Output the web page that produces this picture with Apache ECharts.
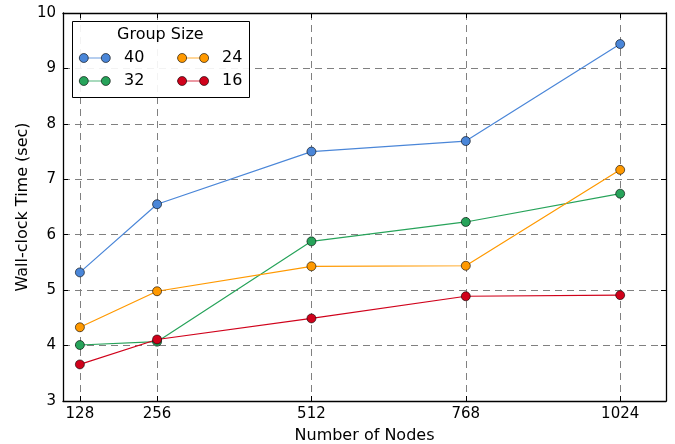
<!DOCTYPE html>
<html>
<head>
<meta charset="utf-8">
<script src="https://cdn.jsdelivr.net/npm/echarts@6/dist/echarts.min.js"></script>
<style>html,body{margin:0;padding:0;background:#fff}#c{width:675px;height:444px}</style>
</head>
<body>
<div id="c"></div>
<script>
const nodes = [128, 256, 512, 768, 1024];
const xTicks = [128, 256, 512, 768, 1024];
const yTicks = [3, 4, 5, 6, 7, 8, 9, 10];
const groupNames = ['40', '32', '24', '16'];
const g40 = [5.32, 6.55, 7.50, 7.69, 9.44];
const g32 = [4.01, 4.07, 5.88, 6.23, 6.74];
const g24 = [4.33, 4.98, 5.43, 5.44, 7.17];
const g16 = [3.66, 4.11, 4.49, 4.89, 4.91];
const colors = ['#4a86d8', '#27a35a', '#ff9900', '#d0021b'];

const values = [g40, g32, g24, g16];
const font = 'DejaVu Sans';
const chart = echarts.init(document.getElementById('c'));

const dash = { color: '#808080', width: 1, type: [7, 5] };
function xa(pos, main) {
  return {
    type: 'value', min: 100, max: 1100, position: pos,
    axisLine: { show: true, onZero: false, lineStyle: { color: '#000', width: 1.3 } },
    axisTick: { show: true, inside: true, length: 5, customValues: xTicks, lineStyle: { color: '#000' } },
    axisLabel: { show: main, customValues: xTicks, formatter: v => String(v), color: '#000', fontFamily: font, fontSize: 15, margin: 6 },
    splitLine: { show: main, lineStyle: dash },
    name: main ? 'Number of Nodes' : '', nameLocation: 'middle', nameGap: 27, nameMoveOverlap: false,
    nameTextStyle: { color: '#000', fontFamily: font, fontSize: 16 }
  };
}
function ya(pos, main) {
  return {
    type: 'value', min: 3, max: 10, interval: 1, position: pos,
    axisLine: { show: true, onZero: false, lineStyle: { color: '#000', width: 1.3 } },
    axisTick: { show: true, inside: true, length: 5, lineStyle: { color: '#000' } },
    axisLabel: { show: main, color: '#000', fontFamily: font, fontSize: 15, margin: 7 },
    splitLine: { show: main, lineStyle: dash },
    name: main ? 'Wall-clock Time (sec)' : '', nameLocation: 'middle', nameGap: 32, nameRotate: 90, nameMoveOverlap: false,
    nameTextStyle: { color: '#000', fontFamily: font, fontSize: 16 }
  };
}

const lineIcon = 'path://M0,4.1 H31 V4.9 H0 Z';
const dotIcon = 'path://M0,4.5a4.5,4.5 0 1,0 9,0a4.5,4.5 0 1,0 -9,0 M22,4.5a4.5,4.5 0 1,0 9,0a4.5,4.5 0 1,0 -9,0';
const legendBase = {
  data: ['40', '24', '32', '16'],
  orient: 'horizontal', left: 79, top: 49, width: 195, padding: 0,
  itemGap: 5, itemWidth: 31, itemHeight: 9,
  textStyle: { color: '#000', fontFamily: font, fontSize: 16, width: 48, lineHeight: 18, padding: [0, 0, 0, 9] }
};

chart.setOption({
  animation: false,
  grid: { left: 63, right: 9, top: 13, bottom: 43, containLabel: false, outerBoundsMode: 'none' },
  xAxis: [xa('bottom', true), xa('top', false)],
  yAxis: [ya('left', true), ya('right', false)],
  legend: [
    Object.assign({}, legendBase, { icon: lineIcon, itemStyle: { borderWidth: 0 }, z: 4 }),
    Object.assign({}, legendBase, { icon: dotIcon, itemStyle: { borderColor: '#000', borderWidth: 0.6 }, formatter: () => ' ', z: 5 })
  ],
  graphic: [
    { type: 'rect', left: 72, top: 21, shape: { width: 177, height: 76 }, style: { fill: 'rgba(255,255,255,0.9)', stroke: '#000', lineWidth: 1 }, z: 1 },
    { type: 'text', style: { text: 'Group Size', fontFamily: font, fontSize: 16, fill: '#000' }, left: 117, top: 27, z: 2 }
  ],
  series: groupNames.map((n, i) => ({
    name: n, type: 'line', xAxisIndex: 0, yAxisIndex: 0,
    data: nodes.map((x, j) => [x, values[i][j]]),
    symbol: 'circle', symbolSize: 9,
    lineStyle: { color: colors[i], width: 1.2 },
    itemStyle: { color: colors[i], borderColor: '#000', borderWidth: 0.6 },
    z: 3
  }))
});
</script>
</body>
</html>
